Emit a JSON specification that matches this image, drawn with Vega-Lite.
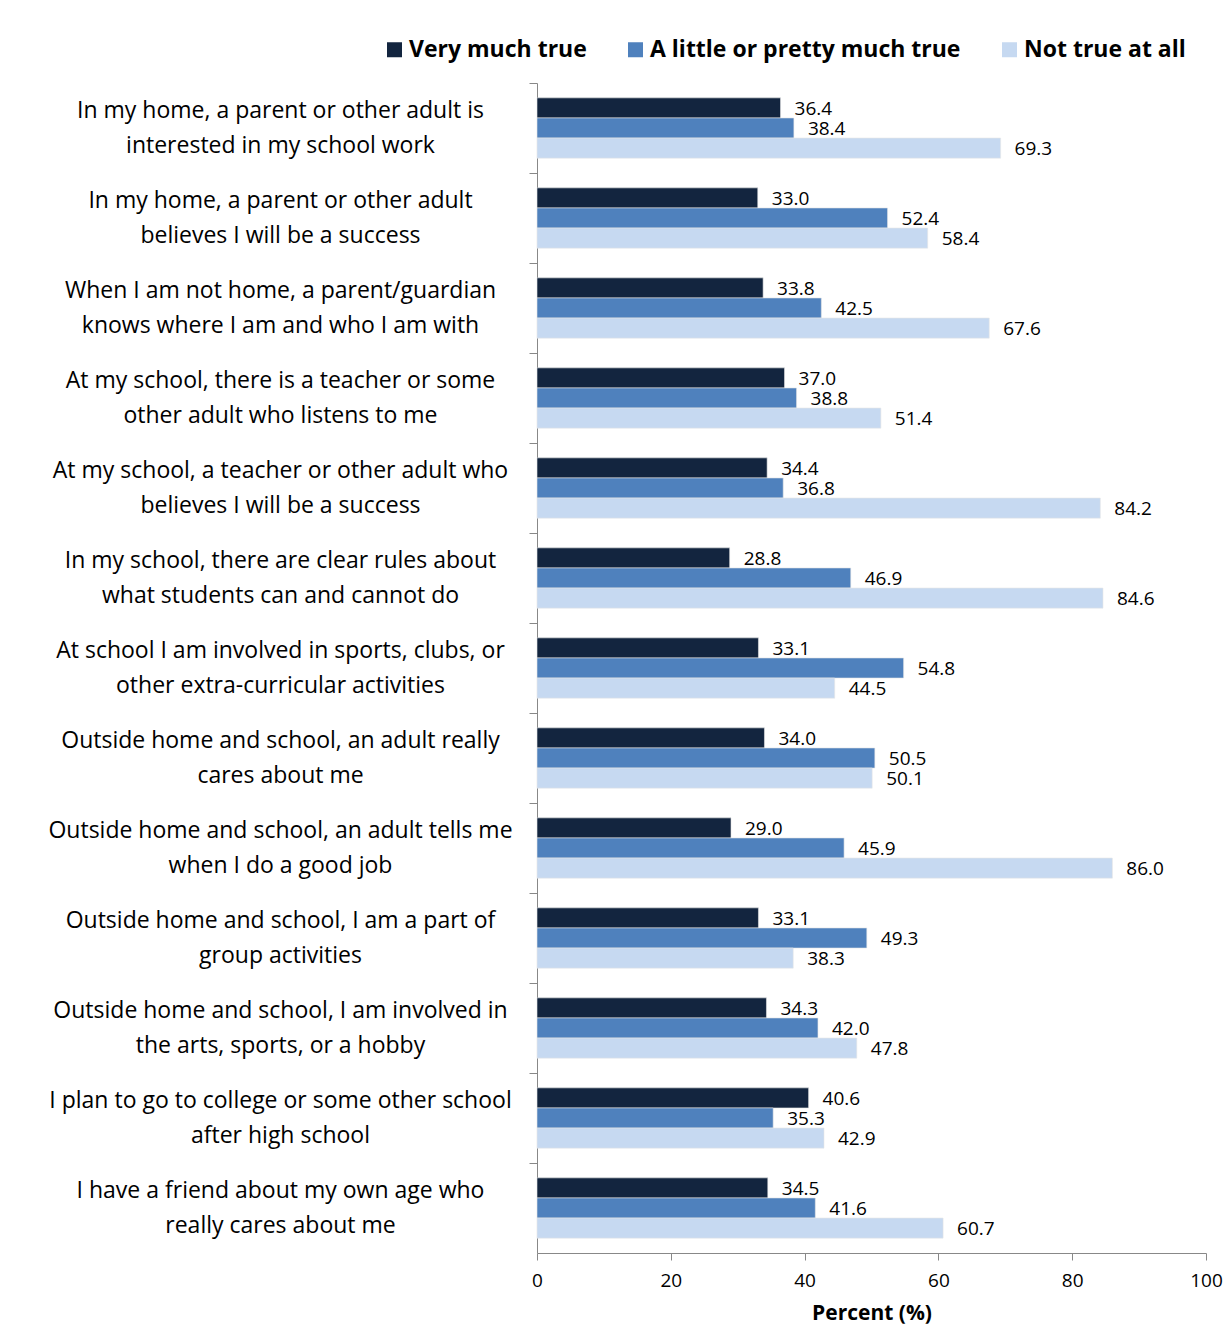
{
  "$schema": "https://vega.github.io/schema/vega-lite/v6.json",
  "autosize": {"type": "none"},
  "padding": {"left": 537, "top": 83, "right": 22, "bottom": 73},
  "width": 669,
  "height": 1170,
  "background": "white",
  "config": {
    "view": {"stroke": null},
    "font": "Open Sans",
    "axis": {"domainColor": "#888888", "tickColor": "#888888", "labelColor": "#000000", "titleColor": "#000000", "grid": false, "labelFont": "Open Sans", "titleFont": "Open Sans"},
    "legend": {"labelFont": "Open Sans"},
    "text": {"font": "Open Sans"}
  },
  "data": {
    "values": [
      {"item": "In my home, a parent or other adult is|interested in my school work", "series": "Very much true", "value": 36.4},
      {"item": "In my home, a parent or other adult is|interested in my school work", "series": "A little or pretty much true", "value": 38.4},
      {"item": "In my home, a parent or other adult is|interested in my school work", "series": "Not true at all", "value": 69.3},
      {"item": "In my home, a parent or other adult|believes I will be a success", "series": "Very much true", "value": 33.0},
      {"item": "In my home, a parent or other adult|believes I will be a success", "series": "A little or pretty much true", "value": 52.4},
      {"item": "In my home, a parent or other adult|believes I will be a success", "series": "Not true at all", "value": 58.4},
      {"item": "When I am not home, a parent/guardian|knows where I am and who I am with", "series": "Very much true", "value": 33.8},
      {"item": "When I am not home, a parent/guardian|knows where I am and who I am with", "series": "A little or pretty much true", "value": 42.5},
      {"item": "When I am not home, a parent/guardian|knows where I am and who I am with", "series": "Not true at all", "value": 67.6},
      {"item": "At my school, there is a teacher or some|other adult who listens to me", "series": "Very much true", "value": 37.0},
      {"item": "At my school, there is a teacher or some|other adult who listens to me", "series": "A little or pretty much true", "value": 38.8},
      {"item": "At my school, there is a teacher or some|other adult who listens to me", "series": "Not true at all", "value": 51.4},
      {"item": "At my school, a teacher or other adult who|believes I will be a success", "series": "Very much true", "value": 34.4},
      {"item": "At my school, a teacher or other adult who|believes I will be a success", "series": "A little or pretty much true", "value": 36.8},
      {"item": "At my school, a teacher or other adult who|believes I will be a success", "series": "Not true at all", "value": 84.2},
      {"item": "In my school, there are clear rules about|what students can and cannot do", "series": "Very much true", "value": 28.8},
      {"item": "In my school, there are clear rules about|what students can and cannot do", "series": "A little or pretty much true", "value": 46.9},
      {"item": "In my school, there are clear rules about|what students can and cannot do", "series": "Not true at all", "value": 84.6},
      {"item": "At school I am involved in sports, clubs, or|other extra-curricular activities", "series": "Very much true", "value": 33.1},
      {"item": "At school I am involved in sports, clubs, or|other extra-curricular activities", "series": "A little or pretty much true", "value": 54.8},
      {"item": "At school I am involved in sports, clubs, or|other extra-curricular activities", "series": "Not true at all", "value": 44.5},
      {"item": "Outside home and school, an adult really|cares about me", "series": "Very much true", "value": 34.0},
      {"item": "Outside home and school, an adult really|cares about me", "series": "A little or pretty much true", "value": 50.5},
      {"item": "Outside home and school, an adult really|cares about me", "series": "Not true at all", "value": 50.1},
      {"item": "Outside home and school, an adult tells me|when I do a good job", "series": "Very much true", "value": 29.0},
      {"item": "Outside home and school, an adult tells me|when I do a good job", "series": "A little or pretty much true", "value": 45.9},
      {"item": "Outside home and school, an adult tells me|when I do a good job", "series": "Not true at all", "value": 86.0},
      {"item": "Outside home and school, I am a part of|group activities", "series": "Very much true", "value": 33.1},
      {"item": "Outside home and school, I am a part of|group activities", "series": "A little or pretty much true", "value": 49.3},
      {"item": "Outside home and school, I am a part of|group activities", "series": "Not true at all", "value": 38.3},
      {"item": "Outside home and school, I am involved in|the arts, sports, or a hobby", "series": "Very much true", "value": 34.3},
      {"item": "Outside home and school, I am involved in|the arts, sports, or a hobby", "series": "A little or pretty much true", "value": 42.0},
      {"item": "Outside home and school, I am involved in|the arts, sports, or a hobby", "series": "Not true at all", "value": 47.8},
      {"item": "I plan to go to college or some other school|after high school", "series": "Very much true", "value": 40.6},
      {"item": "I plan to go to college or some other school|after high school", "series": "A little or pretty much true", "value": 35.3},
      {"item": "I plan to go to college or some other school|after high school", "series": "Not true at all", "value": 42.9},
      {"item": "I have a friend about my own age who|really cares about me", "series": "Very much true", "value": 34.5},
      {"item": "I have a friend about my own age who|really cares about me", "series": "A little or pretty much true", "value": 41.6},
      {"item": "I have a friend about my own age who|really cares about me", "series": "Not true at all", "value": 60.7}
    ]
  },
  "encoding": {
    "y": {
      "field": "item", "type": "nominal", "sort": null,
      "scale": {"paddingInner": 0, "paddingOuter": 0},
      "axis": {
        "title": null, "bandPosition": 0, "tickSize": 8, "labelAlign": "center", "labelBaseline": "middle",
        "labelPadding": 249, "labelFontSize": 23, "labelLineHeight": 35, "labelLimit": 700,
        "labelExpr": "split(datum.label, '|')", "labelOffset": -17
      }
    },
    "yOffset": {
      "field": "series", "type": "nominal",
      "sort": ["Very much true", "A little or pretty much true", "Not true at all"],
      "scale": {"paddingInner": 0, "paddingOuter": 0.74}
    },
    "x": {
      "field": "value", "type": "quantitative",
      "scale": {"domain": [0, 100], "nice": false},
      "axis": {
        "values": [0, 20, 40, 60, 80, 100], "title": "Percent (%)", "tickSize": 7, "labelFontSize": 19,
        "labelPadding": 11, "titleFontSize": 21, "titleFontWeight": "bold", "titlePadding": 12, "labelFlush": false
      }
    }
  },
  "layer": [
    {
      "mark": {"type": "bar", "stroke": "#e6e6e6", "strokeWidth": 0.6},
      "encoding": {
        "color": {
          "field": "series", "type": "nominal",
          "sort": ["Very much true", "A little or pretty much true", "Not true at all"],
          "scale": {"domain": ["Very much true", "A little or pretty much true", "Not true at all"], "range": ["#13253F", "#4F81BD", "#C6D9F1"]},
          "legend": {
            "title": null, "orient": "none", "legendX": -154, "legendY": -45, "direction": "horizontal",
            "symbolType": "square", "symbolSize": 225, "symbolStrokeWidth": 0, "labelFontSize": 23,
            "labelFontWeight": "bold", "labelOffset": 3, "columnPadding": 37, "labelLimit": 500, "labelColor": "#000000"
          }
        }
      }
    },
    {
      "mark": {"type": "text", "align": "left", "baseline": "middle", "dx": 14, "dy": 1, "fontSize": 19, "color": "#000000"},
      "encoding": {
        "text": {"field": "value", "type": "quantitative", "format": ".1f"}
      }
    }
  ]
}
